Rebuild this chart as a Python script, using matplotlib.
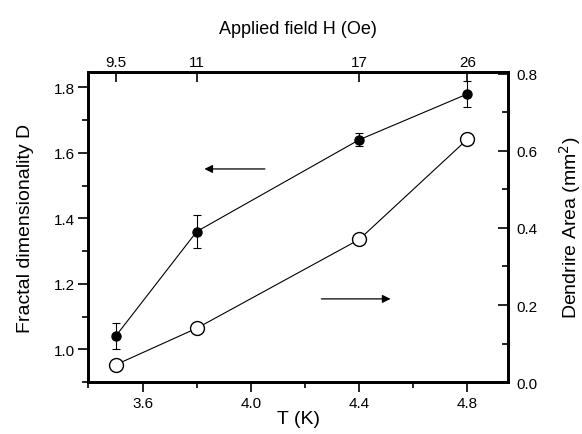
import matplotlib
matplotlib.use('Agg')
import matplotlib.pyplot as plt
from matplotlib.ticker import MultipleLocator

# data
temperature = [3.5, 3.8, 4.4, 4.8]
fractal_dim = [1.04, 1.36, 1.64, 1.78]
fractal_err = [0.04, 0.05, 0.02, 0.04]
dendrite_area = [0.045, 0.14, 0.37, 0.63]
field_labels = ['9.5', '11', '17', '26']

plt.rcParams['font.family'] = ['Liberation Sans', 'DejaVu Sans']

fig = plt.figure(figsize=(5.82, 4.35), dpi=100)
ax = fig.add_axes([0.152, 0.119, 0.721, 0.714])
ax2 = ax.twinx()
ax3 = ax.twiny()

# left axis: fractal dimensionality
ax.errorbar(temperature, fractal_dim, yerr=fractal_err, color='black',
            lw=0.8, marker='o', ms=6.5, mfc='black', mec='black',
            elinewidth=0.8, capsize=3, capthick=0.8, zorder=3)
ax.set_xlim(3.4, 4.95)
ax.set_ylim(0.9, 1.848)
ax.xaxis.set_minor_locator(MultipleLocator(0.2))
ax.yaxis.set_minor_locator(MultipleLocator(0.1))
ax.set_xticks([3.6, 4.0, 4.4, 4.8])
ax.set_xticklabels(['3.6', '4.0', '4.4', '4.8'])
ax.set_yticks([1.0, 1.2, 1.4, 1.6, 1.8])
ax.set_yticklabels(['1.0', '1.2', '1.4', '1.6', '1.8'])
ax.tick_params(which='major', direction='out', length=7, width=1.2,
               labelsize=11, pad=3)
ax.tick_params(which='minor', direction='out', length=4, width=1.2)
ax.set_xlabel('T (K)', fontsize=14, labelpad=0)
ax.set_ylabel('Fractal dimensionality D', fontsize=14, labelpad=14)

# right axis: dendrite area
ax2.plot(temperature, dendrite_area, color='black', lw=0.8, marker='o',
         ms=10, mfc='white', mec='black', mew=1.0, zorder=3)
ax2.set_ylim(0.0, 0.805)
ax2.yaxis.set_minor_locator(MultipleLocator(0.1))
ax2.set_yticks([0.0, 0.2, 0.4, 0.6, 0.8])
ax2.set_yticklabels(['0.0', '0.2', '0.4', '0.6', '0.8'])
ax2.tick_params(which='major', direction='in', length=7, width=1.2,
                labelsize=11, pad=6)
ax2.tick_params(which='minor', direction='in', length=4, width=1.2)
ax2.set_ylabel('Dendrire Area (mm$^2$)', fontsize=14, labelpad=14)

# top axis: applied field
ax3.set_xlim(ax.get_xlim())
ax3.set_xticks(temperature)
ax3.set_xticklabels(field_labels)
ax3.tick_params(which='major', direction='in', length=7, width=1.2,
                labelsize=11, pad=2)
ax3.set_xlabel('Applied field H (Oe)', fontsize=13, labelpad=16)

for a in (ax, ax2, ax3):
    for sp in a.spines.values():
        sp.set_linewidth(1.8)

# arrows showing which axis each curve belongs to
ax.annotate('', xy=(3.818, 1.551), xytext=(4.062, 1.551),
            arrowprops=dict(arrowstyle='-|>', color='black', lw=0.9,
                            mutation_scale=12))
ax2.annotate('', xy=(4.526, 0.216), xytext=(4.25, 0.216),
             arrowprops=dict(arrowstyle='-|>', color='black', lw=0.9,
                             mutation_scale=12))

plt.savefig('out.png', dpi=100)
